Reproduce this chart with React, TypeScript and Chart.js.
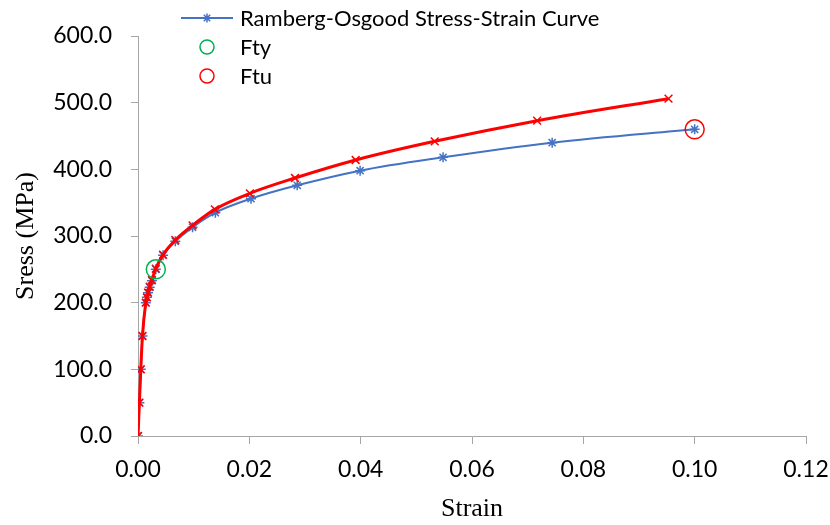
import React, { useEffect, useRef } from "react";
import { Chart, registerables } from "chart.js";

Chart.register(...registerables);

// Ramberg-Osgood (engineering) curve
const roStrain = [0, 0.00025, 0.0005, 0.0008, 0.0014, 0.0016, 0.0018, 0.0021, 0.0025, 0.0032, 0.0045, 0.0067, 0.0098, 0.0139, 0.0203, 0.0286, 0.0399, 0.0548, 0.0744, 0.1];
const roStress = [0, 50, 100, 150, 200, 208, 215, 223, 233, 250, 271, 292, 313, 335, 356, 376, 398, 418, 440, 460];

// second (red) curve
const redStrain = [0, 0.00025, 0.0005, 0.0008, 0.0014, 0.0016, 0.0018, 0.0021, 0.0025, 0.0032, 0.0045, 0.0067, 0.0098, 0.0138, 0.0201, 0.0282, 0.0391, 0.0533, 0.0717, 0.0953];
const redStress = [0, 50, 100, 150, 200, 208, 215, 224, 234, 251, 272, 294, 316, 340, 364, 387, 414, 442, 473, 506];

const ftyStrain = [0.0032];
const ftyStress = [250];
const ftuStrain = [0.1];
const ftuStress = [460];

const legendLabels = ["Ramberg-Osgood Stress-Strain Curve", "Fty", "Ftu"];
const xTitle = "Strain";
const yTitle = "Sress (MPa)";

const BLUE = "#4472C4";
const RED = "#FF0000";
const GREEN = "#00B050";
const AXIS = "#A6A6A6";

const zip = (xs: number[], ys: number[]) => xs.map((x, i) => ({ x, y: ys[i] }));

const legendPlugin = {
  id: "customLegend",
  afterDraw(chart: any) {
    const ctx = chart.ctx;
    ctx.save();
    const rows = [18, 47, 76];
    const mx = 207;
    ctx.font = "22px Lato";
    ctx.textBaseline = "middle";
    ctx.fillStyle = "#000";
    ctx.strokeStyle = BLUE;
    ctx.lineWidth = 2;
    ctx.beginPath();
    ctx.moveTo(181, rows[0]);
    ctx.lineTo(233, rows[0]);
    ctx.stroke();
    const r = 4.5;
    ctx.lineWidth = 1.5;
    ctx.beginPath();
    ctx.moveTo(mx - r, rows[0]); ctx.lineTo(mx + r, rows[0]);
    ctx.moveTo(mx, rows[0] - r); ctx.lineTo(mx, rows[0] + r);
    const d = r * 0.707;
    ctx.moveTo(mx - d, rows[0] - d); ctx.lineTo(mx + d, rows[0] + d);
    ctx.moveTo(mx - d, rows[0] + d); ctx.lineTo(mx + d, rows[0] - d);
    ctx.stroke();
    ctx.lineWidth = 1.5;
    ctx.strokeStyle = GREEN;
    ctx.beginPath();
    ctx.arc(mx, rows[1], 7, 0, Math.PI * 2);
    ctx.stroke();
    ctx.strokeStyle = RED;
    ctx.beginPath();
    ctx.arc(mx, rows[2], 7, 0, Math.PI * 2);
    ctx.stroke();
    ctx.textAlign = "left";
    legendLabels.forEach((t, i) => ctx.fillText(t, 240, rows[i] + 1));
    ctx.restore();
  },
};

export default function App() {
  const ref = useRef<HTMLCanvasElement | null>(null);
  useEffect(() => {
    document.body.style.margin = "0";
    const canvas = ref.current;
    if (!canvas) return;
    const chart = new Chart(canvas, {
      type: "scatter",
      data: {
        datasets: [
          {
            label: "Fty",
            data: zip(ftyStrain, ftyStress),
            showLine: false,
            pointStyle: "circle",
            pointRadius: 9.5,
            pointBorderWidth: 1.5,
            borderColor: GREEN,
            backgroundColor: "rgba(0,0,0,0)",
            order: 0,
          },
          {
            label: "Ftu",
            data: zip(ftuStrain, ftuStress),
            showLine: false,
            pointStyle: "circle",
            pointRadius: 9.5,
            pointBorderWidth: 1.5,
            borderColor: RED,
            backgroundColor: "rgba(0,0,0,0)",
            order: 0,
          },
          {
            label: "True",
            data: zip(redStrain, redStress),
            showLine: true,
            borderColor: RED,
            backgroundColor: RED,
            borderWidth: 3,
            cubicInterpolationMode: "monotone",
            pointStyle: "crossRot",
            pointRadius: 5.5,
            pointBorderWidth: 1.5,
            pointBorderColor: RED,
            order: 1,
          },
          {
            label: legendLabels[0],
            data: zip(roStrain, roStress),
            showLine: true,
            borderColor: BLUE,
            backgroundColor: BLUE,
            borderWidth: 2,
            cubicInterpolationMode: "monotone",
            pointStyle: "star",
            pointRadius: 5,
            pointBorderWidth: 1.5,
            pointBorderColor: BLUE,
            order: 2,
          },
        ],
      },
      options: {
        animation: false,
        responsive: false,
        maintainAspectRatio: false,
        layout: { padding: { top: 36, right: 24, left: 0, bottom: 0 } },
        plugins: { legend: { display: false }, tooltip: { enabled: false } },
        scales: {
          x: {
            type: "linear",
            min: 0,
            max: 0.12,
            afterFit: (s: any) => { s.height = 89; s.paddingRight = 0; s.paddingLeft = 0; },
            border: { display: true, color: AXIS, width: 1 },
            grid: { display: true, drawOnChartArea: false, drawTicks: true, tickLength: 8, color: AXIS },
            ticks: {
              stepSize: 0.02,
              padding: 12,
              color: "#000",
              font: { family: "Lato", size: 23 },
              maxRotation: 0,
              callback: (v: any) => Number(v).toFixed(2),
            },
            title: {
              display: true,
              text: xTitle,
              color: "#000",
              font: { family: "Liberation Serif", size: 26 },
              padding: { top: 0, bottom: 0 },
            },
          },
          y: {
            type: "linear",
            min: 0,
            max: 600,
            afterFit: (s: any) => { s.width = 138; s.paddingTop = 0; s.paddingBottom = 0; },
            border: { display: true, color: AXIS, width: 1 },
            grid: { display: true, drawOnChartArea: false, drawTicks: true, tickLength: 7, color: AXIS },
            ticks: {
              stepSize: 100,
              padding: 19,
              color: "#000",
              font: { family: "Lato", size: 23 },
              callback: (v: any) => Number(v).toFixed(1),
            },
            title: {
              display: true,
              text: yTitle,
              color: "#000",
              font: { family: "Liberation Serif", size: 26 },
              padding: { top: 11, bottom: 0 },
            },
          },
        },
      },
      plugins: [legendPlugin],
    } as any);
    return () => chart.destroy();
  }, []);
  return (
    <div style={{ width: 830, height: 525, position: "relative" }}>
      <canvas ref={ref} width={830} height={525} />
    </div>
  );
}
